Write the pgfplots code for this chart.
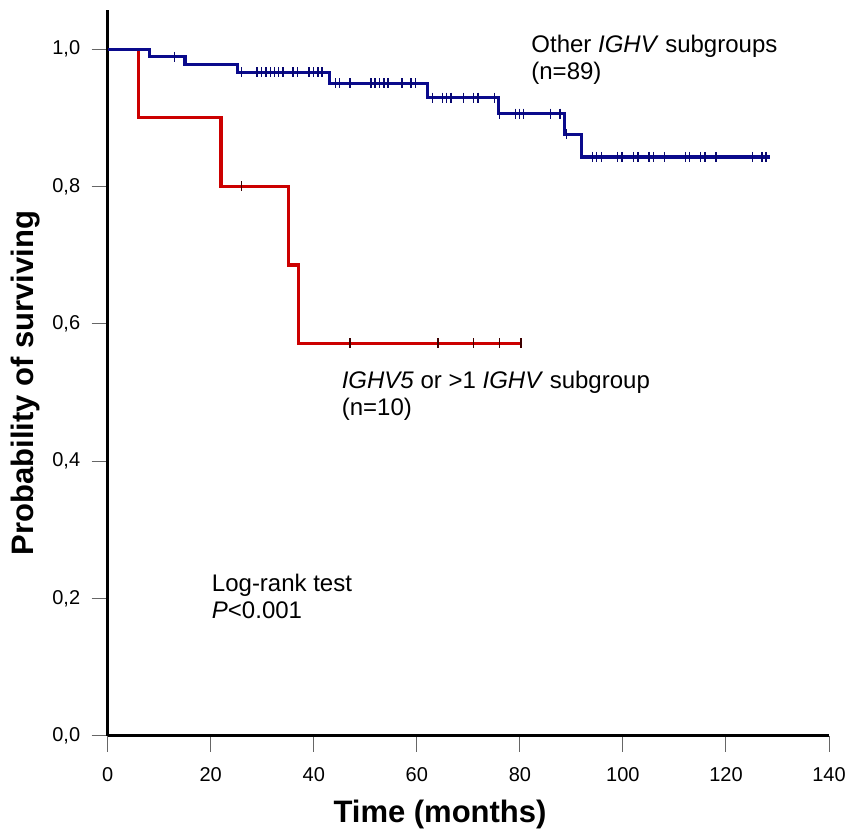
\documentclass[border=0pt]{standalone}
\usepackage{pgfplots}
\pgfplotsset{compat=1.18}
\usepackage{fontspec}
\setmainfont{Liberation Sans}
\definecolor{kmblue}{RGB}{10,10,140}
\definecolor{kmred}{RGB}{204,0,0}
\begin{document}
\begin{tikzpicture}
\useasboundingbox (-107.7pt,-96.3pt) rectangle (740.3pt,735.7pt);
\begin{axis}[
  at={(0pt,0pt)}, anchor=south west,
  scale only axis, width=721.3pt, height=725.7pt,
  xmin=0, xmax=140, ymin=0, ymax=1.057,
  axis x line=bottom, axis y line=left,
  axis line style={line width=3pt, -},
  xtick={0,20,40,60,80,100,120,140},
  ytick={0,0.2,0.4,0.6,0.8,1.0},
  tick align=outside, major tick length=16pt,
  tick style={black!60, line width=1pt},
  /pgf/number format/assume math mode=true,
  ticklabel style={font=\fontsize{20}{22}\selectfont},
  xticklabel style={yshift=-12pt},
  yticklabel style={xshift=-8pt, /pgf/number format/.cd, fixed, fixed zerofill, precision=1, use comma},
  clip=false,
]
% red group
\addplot[const plot, kmred, line width=3.2pt] coordinates {
  (0,1) (6,0.9) (22,0.8) (35.1,0.6857) (37.1,0.5714) (80.2,0.5714)
};
\addplot[only marks, mark=|, mark size=5pt, black!70!kmred, mark options={line width=1.4pt}] coordinates {
  (26.0,0.8) (47.0,0.5714) (64.1,0.5714) (71.0,0.5714) (76.0,0.5714) (80.2,0.5714)
};
% blue group
\addplot[const plot, kmblue, line width=3.2pt] coordinates {
  (0,1) (8.1,0.9888) (15,0.9775) (25.2,0.9663) (43,0.9505) (62.1,0.9295)
  (75.9,0.906) (88.6,0.8757) (92,0.843) (128.6,0.843)
};
\addplot[only marks, mark=|, mark size=5pt, kmblue!80!black, mark options={line width=1.4pt}] coordinates {
  (13.0,0.9888)
  (26.0,0.9663) (29.0,0.9663) (29.9,0.9663) (30.7,0.9663) (31.6,0.9663) (32.4,0.9663)
  (33.2,0.9663) (34.0,0.9663) (36.0,0.9663) (36.8,0.9663) (39.1,0.9663) (39.9,0.9663)
  (40.8,0.9663) (41.6,0.9663)
  (44.2,0.9505) (45.0,0.9505) (47.0,0.9505) (51.1,0.9505) (51.9,0.9505) (52.8,0.9505)
  (53.6,0.9505) (54.4,0.9505) (57.1,0.9505) (58.9,0.9505) (59.7,0.9505)
  (63.0,0.9295) (65.0,0.9295) (65.8,0.9295) (66.6,0.9295) (69.0,0.9295) (71.0,0.9295)
  (71.9,0.9295) (75.1,0.9295)
  (76.1,0.906) (79.1,0.906) (79.9,0.906) (80.7,0.906) (86.0,0.906) (87.8,0.906)
  (89.0,0.8757)
  (94.1,0.843) (94.9,0.843) (95.8,0.843) (99.0,0.843) (99.8,0.843) (102.1,0.843)
  (102.9,0.843) (105.1,0.843) (105.9,0.843) (108.1,0.843) (112.2,0.843) (112.9,0.843)
  (115.1,0.843) (115.9,0.843) (118.1,0.843) (125.2,0.843) (127.0,0.843) (127.8,0.843)
};
% annotations
\node[anchor=west, align=left, font=\fontsize{24}{27}\selectfont, inner sep=0pt]
  at (axis cs:82.2,0.984) {Other \textit{IGHV} subgroups\\(n=89)};
\node[anchor=west, align=left, font=\fontsize{24}{27}\selectfont, inner sep=0pt]
  at (axis cs:45.4,0.495) {\textit{IGHV5} or >1 \textit{IGHV} subgroup\\(n=10)};
\node[anchor=west, align=left, font=\fontsize{24}{27}\selectfont, inner sep=0pt]
  at (axis cs:20.2,0.2035) {Log-rank test\\\textit{P}<0.001};
% axis labels
\node[font=\fontsize{31}{36}\selectfont\bfseries, anchor=center]
  at (axis description cs:0.4607,-0.1089) {Time (months)};
\node[font=\fontsize{31}{36}\selectfont\bfseries, anchor=center, rotate=90]
  at (axis description cs:-0.114,0.486) {Probability of surviving};
\end{axis}
\end{tikzpicture}
\end{document}
